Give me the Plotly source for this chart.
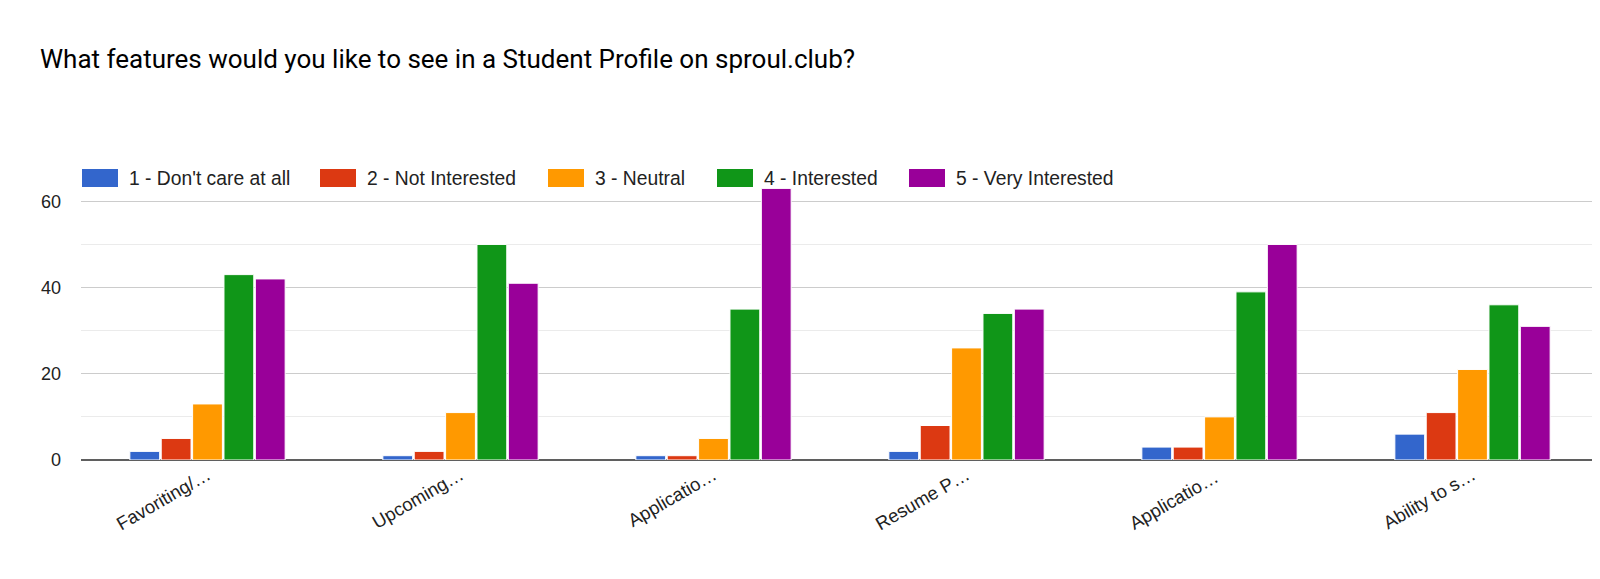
import plotly.graph_objects as go

categories = ["Favoriting/…", "Upcoming…", "Applicatio…", "Resume P…", "Applicatio… ", "Ability to s…"]
series_names = ["1 - Don't care at all", "2 - Not Interested", "3 - Neutral", "4 - Interested", "5 - Very Interested"]
dont_care = [2, 1, 1, 2, 3, 6]
not_interested = [5, 2, 1, 8, 3, 11]
neutral = [13, 11, 5, 26, 10, 21]
interested = [43, 50, 35, 34, 39, 36]
very_interested = [42, 41, 63, 35, 50, 31]
colors = ["#3366cc", "#dc3912", "#ff9900", "#109618", "#990099"]
y_ticks = [0, 20, 40, 60]

series_values = [dont_care, not_interested, neutral, interested, very_interested]

# page body has an 8px margin; compensate so the figure fills the window
OFF = 8
W, H = 1600 - 2 * OFF, 579 - 2 * OFF
PLOT_LEFT, PLOT_TOP, PLOT_BOTTOM = 81, 158, 460   # screen pixels
L = PLOT_LEFT - OFF
T = PLOT_TOP - OFF
B = H - (PLOT_BOTTOM - OFF)
R = 0
PW, PH = W - L - R, H - T - B
CAT_W = 253  # screen pixels per category
x_range = [-0.5, -0.5 + PW / CAT_W]

def px_x(x):
    return (x - OFF - L) / PW

def px_y(y):
    return (H - B - (y - OFF)) / PH

fig = go.Figure()
for name, vals, col in zip(series_names, series_values, colors):
    fig.add_trace(go.Bar(
        x=categories, y=vals, name=name,
        marker=dict(color=col, line=dict(color="white", width=1)),
        showlegend=False,
    ))

# custom legend (wide rectangular swatches like the Google chart)
legend_x = [82, 320, 548, 717, 909]
legend_y = 178
for name, col, lx in zip(series_names, colors, legend_x):
    fig.add_shape(type="rect", xref="paper", yref="paper",
                  x0=px_x(lx), x1=px_x(lx + 36), y0=px_y(legend_y + 9), y1=px_y(legend_y - 9),
                  fillcolor=col, line=dict(width=0), layer="above")
    fig.add_annotation(xref="paper", yref="paper", x=px_x(lx + 45), y=px_y(legend_y),
                       text=name, showarrow=False, xanchor="left", yanchor="middle",
                       font=dict(size=19.3, color="#222222"))

fig.update_layout(
    width=W, height=H,
    paper_bgcolor="white", plot_bgcolor="white",
    margin=dict(l=L, r=R, t=T, b=B),
    barmode="group", bargap=0.38, bargroupgap=0.05,
    font=dict(family="Liberation Sans, Arial, sans-serif", size=18, color="#222222"),
    title=dict(
        text="What features would you like to see in a Student Profile on sproul.club?",
        x=(40 - OFF) / W, xanchor="left", y=1 - (59 - OFF) / H, yanchor="middle",
        font=dict(family="Roboto, sans-serif", size=26, color="#000000"),
    ),
    showlegend=False,
)
fig.update_yaxes(
    range=[0, 70.05], tickvals=y_ticks, ticktext=[str(v) for v in y_ticks],
    showgrid=True, gridcolor="#cccccc", gridwidth=1,
    minor=dict(dtick=10, showgrid=True, gridcolor="#ebebeb", gridwidth=1),
    zeroline=True, zerolinecolor="#5f5f5f", zerolinewidth=2,
    showline=False, ticks="", tickfont=dict(size=18, color="#222222"),
    ticklabelstandoff=19,
)
fig.update_xaxes(
    range=x_range,
    tickangle=-30, showgrid=False, showline=False, ticks="",
    tickfont=dict(size=18.5, color="#222222"),
)

fig.write_html("out.html")
